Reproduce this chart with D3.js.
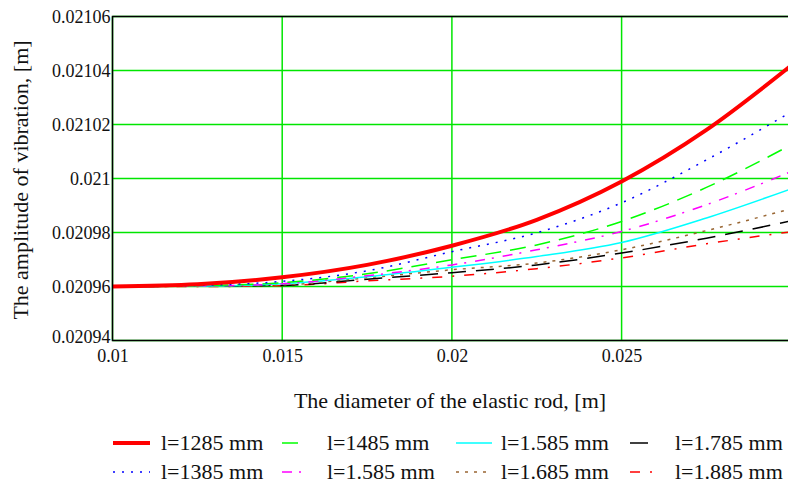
<!DOCTYPE html>
<html lang="en">
<head>
    <meta charset="UTF-8">
    <title>Amplitude of vibration vs rod diameter</title>
    <script src="https://d3js.org/d3.v7.min.js"></script>
    <style>
        body {
            margin: 0;
            background: #fff;
        }
        svg {
            display: block;
            font-family: "Liberation Serif", "Times New Roman", serif;
        }
        .tick text {
            font-size: 18px;
            fill: #111;
        }
        .grid line {
            stroke: #00e600;
            stroke-width: 1.5px;
        }
        .curve {
            fill: none;
        }
        .title {
            font-size: 22px;
            fill: #111;
        }
        .legend text {
            font-size: 22px;
            fill: #111;
        }
    </style>
</head>
<body>

    <svg width="788" height="484"></svg>

    <script>
        // rod diameter, m
        const diameters = [0.01, 0.0125, 0.015, 0.0175, 0.02, 0.0225, 0.025, 0.0275, 0.03];

        // amplitude of vibration, m (one array per rod length)
        const amp1285 = [0.0209600, 0.0209608, 0.0209634, 0.0209680, 0.0209751, 0.0209847, 0.0209989, 0.0210180, 0.0210419];
        const amp1385 = [0.0209600, 0.0209604, 0.0209619, 0.0209658, 0.0209729, 0.0209799, 0.0209910, 0.0210069, 0.0210247];
        const amp1485 = [0.0209600, 0.0209603, 0.0209614, 0.0209647, 0.0209699, 0.0209754, 0.0209841, 0.0209967, 0.0210125];
        const amp1585a = [0.0209600, 0.0209602, 0.0209610, 0.0209640, 0.0209680, 0.0209736, 0.0209804, 0.0209903, 0.0210026];
        const amp1585b = [0.0209600, 0.0209601, 0.0209610, 0.0209636, 0.0209671, 0.0209711, 0.0209763, 0.0209854, 0.0209962];
        const amp1685 = [0.0209600, 0.0209601, 0.0209606, 0.0209632, 0.0209662, 0.0209687, 0.0209736, 0.0209807, 0.0209888];
        const amp1785 = [0.0209600, 0.0209601, 0.0209604, 0.0209627, 0.0209651, 0.0209680, 0.0209724, 0.0209779, 0.0209843];
        const amp1885 = [0.0209600, 0.0209600, 0.0209603, 0.0209621, 0.0209638, 0.0209666, 0.0209706, 0.0209758, 0.0209803];

        const seriesNames = ["l=1285 mm", "l=1385 mm", "l=1485 mm", "l=1.585 mm", "l=1.585 mm", "l=1.685 mm", "l=1.785 mm", "l=1.885 mm"];
        const seriesValues = [amp1285, amp1385, amp1485, amp1585a, amp1585b, amp1685, amp1785, amp1885];

        const xTicks = [0.01, 0.015, 0.02, 0.025];
        const yTicks = [0.02094, 0.02096, 0.02098, 0.021, 0.02102, 0.02104, 0.02106];

        // line styles, same order as the series
        const styles = [
            { color: "#ff0000", width: 4, dash: null },
            { color: "#0000ff", width: 1.5, dash: "2,7" },
            { color: "#00ff00", width: 1.5, dash: "16,9" },
            { color: "#ff00ff", width: 1.5, dash: "10,7,2,9" },
            { color: "#00ffff", width: 1.5, dash: null },
            { color: "#996633", width: 1.5, dash: "3,6" },
            { color: "#000000", width: 1.5, dash: "18,10" },
            { color: "#ff0000", width: 1.5, dash: "10,10,2,10" }
        ];

        const svg = d3.select("svg");
        const plotLeft = 112.5, plotRight = 791.3, plotTop = 16.5, plotBottom = 340.5;

        const x = d3.scaleLinear().domain([0.01, 0.03]).range([plotLeft, plotRight]);
        const y = d3.scaleLinear().domain([0.02094, 0.02106]).range([plotBottom, plotTop]);
        const fmt = v => String(+v.toFixed(5));

        // grid
        const grid = svg.append("g").attr("class", "grid");
        grid.selectAll(".gy").data(yTicks).enter().append("line")
            .attr("x1", plotLeft).attr("x2", 788)
            .attr("y1", d => y(d)).attr("y2", d => y(d));
        grid.selectAll(".gx").data(xTicks).enter().append("line")
            .attr("x1", d => x(d)).attr("x2", d => x(d))
            .attr("y1", plotTop).attr("y2", plotBottom);

        // curves
        const line = d3.line()
            .x((d, i) => x(diameters[i]))
            .y(d => y(d))
            .curve(d3.curveMonotoneX);

        // thin ones first, thick red last so it sits on top
        const order = [7, 6, 5, 4, 3, 2, 1, 0];
        order.forEach(k => {
            svg.append("path")
                .attr("class", "curve")
                .attr("d", line(seriesValues[k]))
                .attr("stroke", styles[k].color)
                .attr("stroke-width", styles[k].width)
                .attr("stroke-dasharray", styles[k].dash);
        });

        // frame (left, top, bottom; right side runs off the picture)
        svg.append("path")
            .attr("d", `M788,${plotTop}H${plotLeft}V${plotBottom}H788`)
            .attr("fill", "none")
            .attr("stroke", "#000")
            .attr("stroke-width", 1.5);

        // tick labels
        const yAxis = svg.append("g")
            .attr("transform", `translate(${plotLeft - 2},0)`)
            .call(d3.axisLeft(y).tickValues(yTicks).tickFormat(fmt).tickSize(0).tickPadding(0));
        yAxis.select(".domain").remove();
        // lowest label sits just above the x labels
        yAxis.selectAll("text").filter(d => d === yTicks[0]).attr("dy", "0.12em");

        const xAxis = svg.append("g")
            .attr("transform", `translate(0,${plotBottom + 5})`)
            .call(d3.axisBottom(x).tickValues(xTicks).tickFormat(fmt).tickSize(0).tickPadding(0));
        xAxis.select(".domain").remove();
        xAxis.selectAll("text").attr("dy", "0.9em");

        svg.selectAll(".tick text").attr("font-family", null).attr("font-size", null);
        yAxis.attr("font-family", null).attr("font-size", null);
        xAxis.attr("font-family", null).attr("font-size", null);

        svg.append("text")
            .attr("class", "title")
            .attr("x", 450).attr("y", 408)
            .attr("text-anchor", "middle")
            .text("The diameter of the elastic rod, [m]");

        svg.append("text")
            .attr("class", "title")
            .attr("transform", "translate(28,180) rotate(-90)")
            .attr("text-anchor", "middle")
            .text("The amplitude of vibration, [m]");

        // legend, column by column
        const legendCols = [113, 282, 456, 630];
        const legendLen = [37, 24, 36, 25];
        const legendText = [161, 327, 501, 675];
        const legendRows = [443, 472];

        const legend = svg.append("g").attr("class", "legend");
        seriesNames.forEach((name, k) => {
            const c = Math.floor(k / 2), r = k % 2;
            legend.append("line")
                .attr("x1", legendCols[c]).attr("x2", legendCols[c] + legendLen[c])
                .attr("y1", legendRows[r]).attr("y2", legendRows[r])
                .attr("stroke", styles[k].color)
                .attr("stroke-width", styles[k].width)
                .attr("stroke-dasharray", styles[k].dash);
            legend.append("text")
                .attr("x", legendText[c]).attr("y", legendRows[r] + 7)
                .text(name);
        });
    </script>

</body>
</html>
